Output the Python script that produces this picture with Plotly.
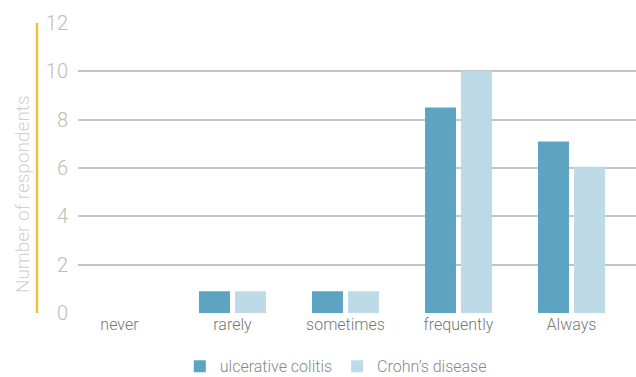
import plotly.graph_objects as go

categories = ["never", "rarely", "sometimes", "frequently", "Always"]
uc_values = [0, 0.9, 0.9, 8.5, 7.1]
cd_values = [0, 0.9, 0.9, 10, 6.05]
series_names = ["ulcerative colitis", "Crohn’s disease"]
y_ticks = [0, 2, 4, 6, 8, 10, 12]
y_title = "Number of respondents"

FONT = "Roboto"

fig = go.Figure()
fig.add_trace(go.Bar(x=categories, y=uc_values, name=series_names[0],
                     marker=dict(color="#5ca4c2", line=dict(width=0))))
fig.add_trace(go.Bar(x=categories, y=cd_values, name=series_names[1],
                     marker=dict(color="#bddbe6", line=dict(width=0))))

fig.update_layout(
    width=636, height=377,
    margin=dict(l=78, r=0, t=23, b=64, autoexpand=False),
    paper_bgcolor="white", plot_bgcolor="white",
    barmode="group", bargap=0.363, bargroupgap=0.139,
    font=dict(family=FONT, color="#888", size=15, weight=300),
    showlegend=True,
    legend=dict(orientation="h", x=0.462, xanchor="center", y=-0.125, yanchor="top",
                font=dict(family=FONT, size=16, color="#888", weight=300),
                itemwidth=30, traceorder="normal"),
    xaxis=dict(range=[-0.367, 4.571], showgrid=False, zeroline=False,
               showline=False, ticks="", automargin=False,
               tickfont=dict(family=FONT, size=16, color="#777", weight=300)),
    yaxis=dict(range=[0, 12], tickvals=y_ticks, showgrid=True, gridcolor="#c4c4c4",
               gridwidth=2, zeroline=False, showline=False, ticks="",
               ticklabelstandoff=9, automargin=False,
               tickfont=dict(family=FONT, size=20, color="#bbb", weight=300)),
)

fig.add_annotation(text=y_title, textangle=-90, xref="paper", yref="paper",
                   x=-0.1004, y=0.41, xanchor="center", yanchor="middle",
                   showarrow=False,
                   font=dict(family=FONT, size=19, color="#d0d0d0", weight=300))

fig.add_shape(type="line", xref="paper", yref="y",
              x0=-0.0735, x1=-0.0735, y0=-0.41, y1=12.5,
              line=dict(color="#f0c233", width=2.5))

fig.write_html("out.html")
